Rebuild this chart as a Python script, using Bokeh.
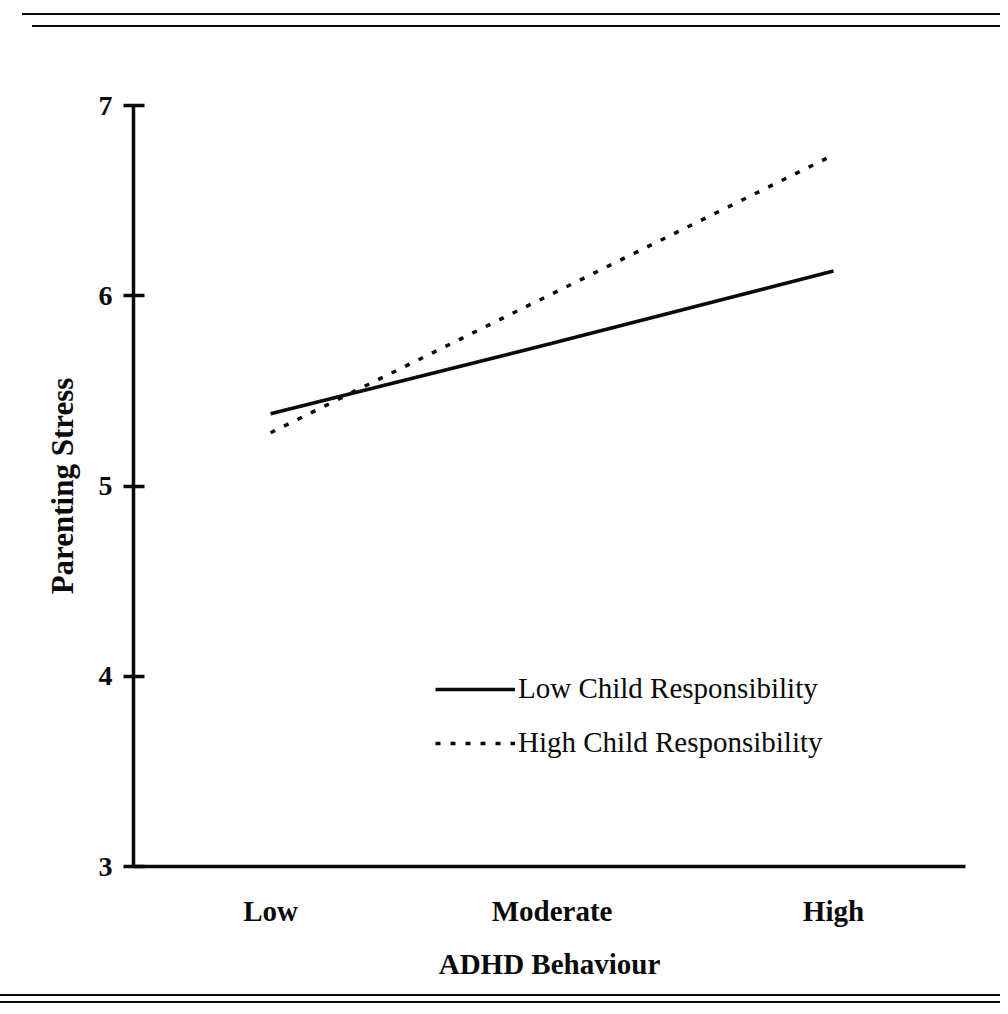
from bokeh.plotting import figure
from bokeh.models import Range1d, FixedTicker, Legend, LegendItem, Div
from bokeh.layouts import column
from bokeh.embed import file_html
from bokeh.resources import INLINE

# ---- data ----
categories = ["Low", "Moderate", "High"]
x_pos = [0, 1, 2]
low_resp = [5.38, 5.75, 6.13]
high_resp = [5.28, 6.01, 6.74]
y_ticks = [3, 4, 5, 6, 7]
series_names = ["Low Child Responsibility", "High Child Responsibility"]
x_title = "ADHD Behaviour"
y_title = "Parenting Stress"

FONT = "Liberation Serif"
W = 1000
INK = "#0a0a0a"


def rule_div(height, rules):
    html = ""
    for top_px, left_px in rules:
        html += ('<div style="height:0;margin:0;margin-top:%dpx;margin-left:%dpx;'
                 'width:%dpx;border-top:2px solid %s;"></div>' % (top_px, left_px, W - left_px, INK))
    return Div(text=html, width=W, height=height, margin=0)


top = rule_div(38, [(13, 22), (10, 32)])

p = figure(width=W, height=952, x_range=Range1d(-0.487, 2.469), y_range=Range1d(3, 7),
           toolbar_location=None, output_backend="svg",
           min_border_left=133, min_border_right=35, min_border_top=67, min_border_bottom=124)
p.grid.visible = False
p.outline_line_color = None

r1 = p.line(x_pos, low_resp, line_width=3.5, line_color=INK)
r2 = p.line(x_pos, high_resp, line_width=3.5, line_color=INK, line_dash="5 10")

# y axis
ya = p.yaxis[0]
ya.ticker = FixedTicker(ticks=y_ticks)
ya.minor_tick_line_color = None
ya.major_tick_in = 11
ya.major_tick_out = 10
ya.major_tick_line_width = 3.5
ya.major_tick_line_color = INK
ya.axis_line_width = 3.5
ya.axis_line_color = INK
ya.major_label_standoff = 11
ya.major_label_text_font = FONT
ya.major_label_text_font_style = "bold"
ya.major_label_text_font_size = "28px"
ya.major_label_text_color = INK
ya.axis_label = y_title
ya.axis_label_text_font = FONT
ya.axis_label_text_font_style = "bold"
ya.axis_label_text_font_size = "31px"
ya.axis_label_text_color = INK
ya.axis_label_standoff = 16

# x axis
xa = p.xaxis[0]
xa.ticker = FixedTicker(ticks=x_pos)
xa.major_label_overrides = dict(zip(x_pos, categories))
xa.minor_tick_line_color = None
xa.major_tick_line_color = None
xa.major_tick_in = 0
xa.major_tick_out = 0
xa.axis_line_width = 3.5
xa.axis_line_color = INK
xa.major_label_standoff = 28
xa.major_label_text_font = FONT
xa.major_label_text_font_style = "bold"
xa.major_label_text_font_size = "29px"
xa.major_label_text_color = INK
xa.axis_label = x_title
xa.axis_label_text_font = FONT
xa.axis_label_text_font_style = "bold"
xa.axis_label_text_font_size = "29px"
xa.axis_label_text_color = INK
xa.axis_label_standoff = 18

legend = Legend(items=[LegendItem(label=series_names[0], renderers=[r1]),
                       LegendItem(label=series_names[1], renderers=[r2])],
                location=(302, 107), glyph_width=80, glyph_height=32, label_height=32,
                spacing=21, padding=0, margin=0, border_line_color=None,
                background_fill_alpha=0, label_standoff=3,
                label_text_font=FONT, label_text_font_size="29px", label_text_color=INK)
p.add_layout(legend)

bottom = rule_div(16, [(4, 0), (5, 0)])

layout = column(top, p, bottom, spacing=0)
open("out.html", "w").write(file_html(layout, INLINE))
